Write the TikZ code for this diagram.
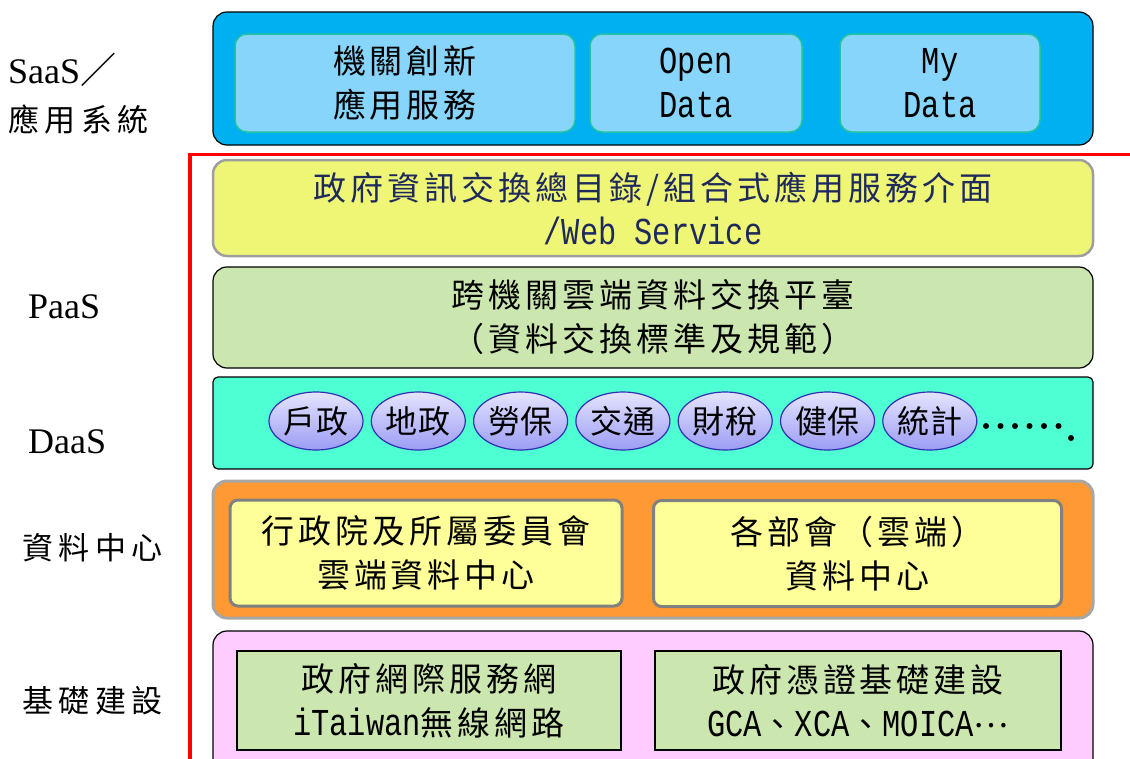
\documentclass[tikz,border=0pt]{standalone}
\usepackage{fontspec}
\usetikzlibrary{shapes.geometric}
\setmainfont{Liberation Serif}
\newfontfamily\cjk{Noto Sans CJK TC}[LetterSpace=12]
\newfontfamily\cjkwide{Noto Sans CJK TC}[LetterSpace=18]
\newfontfamily\cjktight{Noto Sans CJK TC}[LetterSpace=2]
\newfontfamily\mono{Liberation Mono}[FakeStretch=0.8]

\definecolor{saasblue}{HTML}{00B0F0}
\definecolor{appblue}{HTML}{87D5FA}
\definecolor{appedge}{HTML}{21C3A0}
\definecolor{dirfill}{HTML}{EFF575}
\definecolor{dirtext}{HTML}{1F2A5C}
\definecolor{platgreen}{HTML}{CCE6B0}
\definecolor{daasteal}{HTML}{4DFFD2}
\definecolor{dcorange}{HTML}{FF9933}
\definecolor{dcyellow}{HTML}{FFFF99}
\definecolor{infpink}{HTML}{FFCCFF}
\definecolor{bubtop}{HTML}{E4E4FF}
\definecolor{bubbot}{HTML}{9C9CF5}
\definecolor{bubedge}{HTML}{3030B0}

\newcommand\lat[1]{{\mono\fontsize{38}{44}\selectfont #1}}

\begin{document}
\begin{tikzpicture}[x=1pt, y=-1pt,
	layer/.style = {draw=black, line width=1.2pt, rounded corners=14pt,
		minimum width=880pt, inner sep=0pt},
	appbox/.style = {draw=appedge, line width=1.5pt, fill=appblue,
		rounded corners=12pt, minimum height=98pt, align=center, inner sep=0pt},
	dcbox/.style = {draw=black!50, line width=3pt, fill=dcyellow,
		rounded corners=8pt, minimum height=106pt, align=center, inner sep=0pt},
	infbox/.style = {draw=black, line width=1.2pt, fill=platgreen,
		minimum height=99pt, align=center, inner sep=0pt},
	bubble/.style = {ellipse, draw=bubedge, line width=1.2pt, top color=bubtop,
		bottom color=bubbot, minimum width=94pt, minimum height=58pt, inner sep=0pt},
	sidelabel/.style = {anchor=west, align=left, inner sep=0pt},
	boxtext/.style = {font=\fontsize{33}{44}\selectfont\cjk}]

	\useasboundingbox (0,0) rectangle (1130,758);

	% side labels
	\node[sidelabel, font=\fontsize{36}{48}\selectfont] (lsaas) at (8,94)
		{SaaS{\cjk ／}\\{\fontsize{31}{40}\selectfont\cjkwide 應用系統}};
	\node[sidelabel, font=\fontsize{36}{46}\selectfont] (lpaas) at (28,307) {PaaS};
	\node[sidelabel, font=\fontsize{36}{46}\selectfont] (ldaas) at (28,442) {DaaS};
	\node[sidelabel, font=\fontsize{31}{40}\selectfont\cjkwide] (ldc) at (22,548) {資料中心};
	\node[sidelabel, font=\fontsize{31}{40}\selectfont\cjkwide] (linf) at (22,701) {基礎建設};

	% SaaS layer
	\node[layer, fill=saasblue, minimum height=133pt] (saas) at (653,78.5) {};
	\node[appbox, boxtext, minimum width=340pt] (app1) at (405,83) {機關創新\\應用服務};
	\node[appbox, font=\fontsize{38}{44}\selectfont\mono, minimum width=212pt] (app2) at (696,83) {Open\\Data};
	\node[appbox, font=\fontsize{38}{44}\selectfont\mono, minimum width=200pt] (app3) at (940,83) {My\\Data};

	% red frame
	\draw[red, line width=3.5pt] (190,770) -- (190,154.5) -- (1140,154.5);

	% PaaS layers
	\node[layer, draw=black!38, line width=2.5pt, fill=dirfill, minimum height=96pt,
		text=dirtext, align=center, boxtext] (dir) at (653,208)
		{政府資訊交換總目錄/組合式應用服務介面\\\lat{/Web Service}};
	\node[layer, fill=platgreen, minimum height=101pt, align=center, boxtext] (plat) at (653,317.5)
		{跨機關雲端資料交換平臺\\（資料交換標準及規範）};

	% DaaS layer
	\node[layer, rounded corners=5pt, fill=daasteal, minimum height=92pt] (daas) at (653,423) {};
	\foreach \name [count=\i] in {戶政,地政,勞保,交通,財稅,健保,統計}
		\node[bubble, font=\fontsize{32}{34}\selectfont\cjktight] (bub\i) at ({316+102.3*(\i-1)},421) {\name};
	\foreach \k in {0,...,5}
		\fill (986+14.5*\k,426) circle (3pt);
	\fill (1071,438) circle (3pt);

	% data centre layer
	\node[layer, draw=black!35, line width=3pt, fill=dcorange, minimum height=137pt] (dc) at (653,549.5) {};
	\node[dcbox, boxtext, minimum width=392pt] (dc1) at (426,553) {行政院及所屬委員會\\雲端資料中心};
	\node[dcbox, boxtext, minimum width=408pt] (dc2) at (857.5,553.5) {各部會（雲端）\\資料中心};

	% infrastructure layer
	\node[layer, fill=infpink, minimum height=160pt] (inf) at (653,711) {};
	\node[infbox, boxtext, minimum width=384pt] (inf1) at (429,700.5)
		{政府網際服務網\\\lat{iTaiwan}無線網路};
	\node[infbox, boxtext, minimum width=406pt] (inf2) at (858,700.5)
		{政府憑證基礎建設\\\lat{GCA}、\lat{XCA}、\lat{MOICA}\raisebox{9pt}{…}};
\end{tikzpicture}
\end{document}
